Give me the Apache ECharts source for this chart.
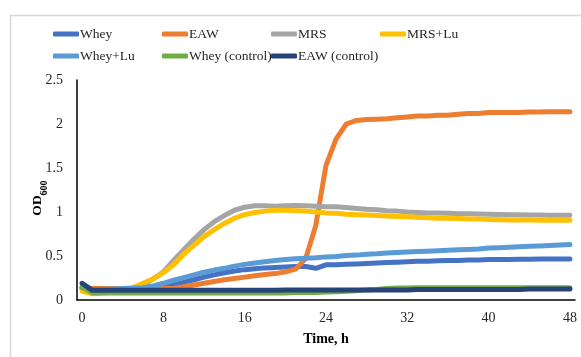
<!DOCTYPE html>
<html><head><meta charset="utf-8">
<script src="https://cdn.jsdelivr.net/npm/echarts@6/dist/echarts.min.js"></script>
<style>html,body{margin:0;padding:0;background:#fff}#c{width:581px;height:357px}</style>
</head><body><div id="c"></div>
<script>
var times = ['0','1','2','3','4','5','6','7','8','9','10','11','12','13','14','15','16','17','18','19','20','21','22','23','24','25','26','27','28','29','30','31','32','33','34','35','36','37','38','39','40','41','42','43','44','45','46','47','48'];
var seriesNames = ['Whey','EAW','MRS','MRS+Lu','Whey+Lu','Whey (control)','EAW (control)'];
var colors = ['#4472C4','#ED7D31','#A5A5A5','#FFC000','#5B9BD5','#70AD47','#264478'];
var whey = [0.14,0.12,0.12,0.12,0.12,0.12,0.12,0.125,0.14,0.17,0.2,0.23,0.26,0.285,0.31,0.33,0.345,0.355,0.365,0.37,0.375,0.38,0.38,0.36,0.40,0.40,0.405,0.41,0.415,0.42,0.425,0.43,0.435,0.44,0.44,0.445,0.45,0.45,0.455,0.455,0.46,0.46,0.46,0.462,0.462,0.465,0.465,0.465,0.465];
var eaw = [0.14,0.13,0.13,0.13,0.13,0.13,0.13,0.13,0.13,0.13,0.15,0.17,0.19,0.21,0.23,0.245,0.26,0.275,0.29,0.30,0.32,0.35,0.47,0.85,1.53,1.83,2.0,2.04,2.05,2.055,2.06,2.07,2.08,2.09,2.09,2.10,2.10,2.11,2.12,2.12,2.13,2.13,2.13,2.13,2.135,2.135,2.14,2.14,2.14];
var mrs = [0.13,0.1,0.1,0.1,0.11,0.13,0.17,0.24,0.32,0.45,0.57,0.69,0.8,0.89,0.96,1.02,1.055,1.07,1.07,1.065,1.07,1.075,1.07,1.065,1.06,1.06,1.05,1.04,1.03,1.025,1.015,1.01,1.0,0.995,0.99,0.99,0.985,0.98,0.98,0.978,0.975,0.972,0.97,0.968,0.966,0.965,0.964,0.963,0.962];
var mrsLu = [0.1,0.07,0.08,0.09,0.11,0.14,0.19,0.24,0.31,0.4,0.52,0.62,0.72,0.8,0.87,0.93,0.97,0.995,1.01,1.02,1.02,1.015,1.01,1.0,0.99,0.985,0.975,0.97,0.965,0.96,0.955,0.95,0.945,0.94,0.935,0.93,0.93,0.925,0.92,0.92,0.915,0.912,0.91,0.91,0.908,0.907,0.906,0.905,0.905];
var wheyLu = [0.14,0.12,0.12,0.125,0.13,0.135,0.14,0.16,0.19,0.225,0.255,0.285,0.315,0.34,0.36,0.385,0.405,0.42,0.435,0.45,0.46,0.468,0.475,0.48,0.49,0.495,0.505,0.51,0.52,0.525,0.535,0.54,0.545,0.55,0.555,0.56,0.565,0.57,0.575,0.58,0.59,0.595,0.6,0.605,0.61,0.615,0.62,0.625,0.63];
var wheyCtrl = [0.15,0.08,0.08,0.08,0.08,0.08,0.08,0.08,0.08,0.08,0.08,0.08,0.08,0.08,0.08,0.08,0.08,0.08,0.08,0.08,0.08,0.085,0.085,0.085,0.09,0.095,0.1,0.105,0.115,0.12,0.13,0.135,0.135,0.14,0.14,0.14,0.14,0.14,0.14,0.14,0.14,0.14,0.14,0.14,0.14,0.14,0.14,0.14,0.14];
var eawCtrl = [0.19,0.11,0.11,0.11,0.11,0.11,0.11,0.11,0.11,0.11,0.11,0.11,0.11,0.11,0.11,0.11,0.11,0.11,0.11,0.11,0.115,0.115,0.115,0.115,0.115,0.115,0.115,0.115,0.115,0.115,0.115,0.115,0.115,0.12,0.12,0.12,0.12,0.12,0.12,0.12,0.12,0.12,0.12,0.12,0.125,0.125,0.125,0.125,0.125];
var yTicks = [0, 2.5, 0.5];
var allData = [whey, eaw, mrs, mrsLu, wheyLu, wheyCtrl, eawCtrl];

var FONT = '"Liberation Serif", "Times New Roman", serif';
var legendPos = [[53,27],[162,27],[271,27],[380,27],[53,49],[162,49],[271,49]];
var legends = seriesNames.map(function(n, i){
  return {
    data: [n], left: legendPos[i][0], top: legendPos[i][1],
    icon: 'roundRect', itemWidth: 26, itemHeight: 5, padding: 0,
    textStyle: {fontFamily: FONT, fontSize: 13.5, color: '#262626', padding: [0,0,0,-4]},
    selectedMode: false
  };
});

var chart = echarts.init(document.getElementById('c'), null, {renderer: 'canvas'});
chart.setOption({
  backgroundColor: '#fff',
  animation: false,
  color: colors,
  graphic: [{type: 'rect', left: 8, top: 13, shape: {width: 600, height: 400}, style: {fill: 'none', stroke: '#d9d9d9', lineWidth: 1.5}, z: -1}],
  legend: legends,
  grid: {left: 77, right: 6, top: 80, bottom: 57},
  xAxis: {
    type: 'category', data: times, boundaryGap: true,
    axisLine: {lineStyle: {color: '#000', width: 1.5}},
    axisTick: {show: false},
    axisLabel: {interval: 7, fontFamily: FONT, fontSize: 14, color: '#262626', margin: 11},
    name: 'Time, h', nameLocation: 'middle', nameGap: 32, nameMoveOverlap: false,
    nameTextStyle: {fontFamily: FONT, fontSize: 14, fontWeight: 'bold', color: '#000'}
  },
  yAxis: {
    type: 'value', min: yTicks[0], max: yTicks[1], interval: yTicks[2],
    axisLine: {show: true, lineStyle: {color: '#000', width: 1.5}},
    axisTick: {show: false},
    splitLine: {show: false},
    axisLabel: {fontFamily: FONT, fontSize: 14, color: '#262626', margin: 14},
    name: '{a|OD}{b|600}', nameLocation: 'middle', nameGap: 32, nameMoveOverlap: false,
    nameTextStyle: {
      padding: [0, 16, 0, 0],
      rich: {
        a: {fontFamily: FONT, fontSize: 13.5, fontWeight: 'bold', color: '#000'},
        b: {fontFamily: FONT, fontSize: 10, fontWeight: 'bold', color: '#000', verticalAlign: 'bottom', padding: [0,0,-4,0]}
      }
    }
  },
  series: seriesNames.map(function(n, i){
    return {
      name: n, type: 'line', data: allData[i], showSymbol: false, symbol: 'none',
      lineStyle: {width: 5, color: colors[i], cap: 'round', join: 'round'},
      itemStyle: {color: colors[i]}
    };
  })
});
</script></body></html>
